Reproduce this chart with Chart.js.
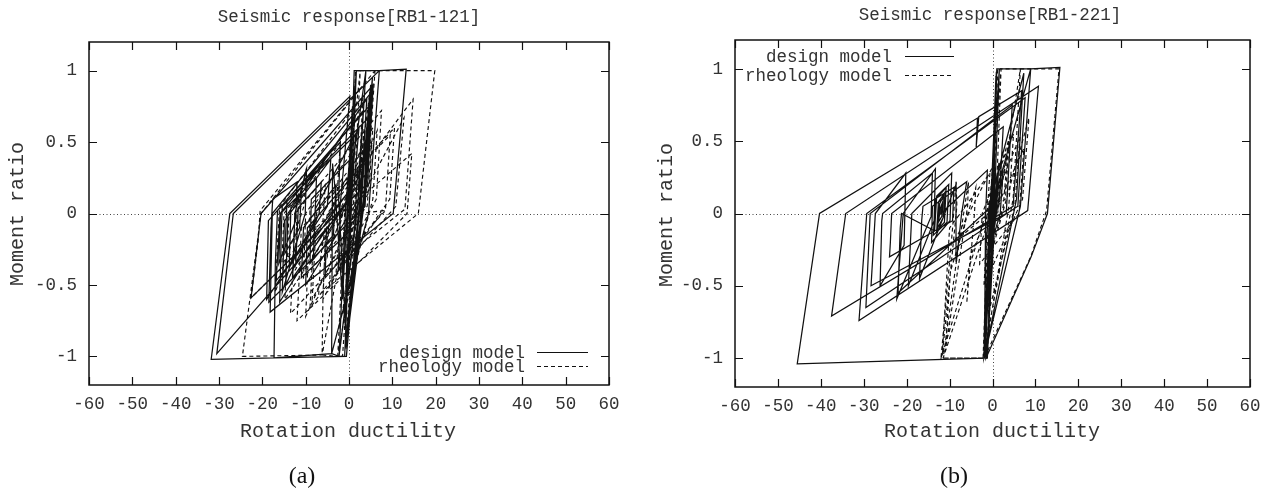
<!DOCTYPE html>
<html>
<head>
<meta charset="utf-8">
<script src="https://cdn.jsdelivr.net/npm/chart.js@4.4.1/dist/chart.umd.min.js"></script>
<style>
html,body{margin:0;padding:0;background:#fff;}
#wrap{position:relative;width:1272px;height:492px;overflow:hidden;}
canvas{position:absolute;top:0;}
#chartA{left:0;}
#chartB{left:636px;}
</style>
</head>
<body>
<div id="wrap">
<canvas id="chartA" width="636" height="492"></canvas>
<canvas id="chartB" width="636" height="492"></canvas>
</div>
<script>
// ---- axes ----
const xTicks = [-60,-50,-40,-30,-20,-10,0,10,20,30,40,50,60];
const yTicks = [-1,-0.5,0,0.5,1];

const seriesNames = ["design model","rheology model"];

// ---- panel (a) RB1-121: [rotation ductility, moment ratio] ----
const designA = [
  [0,0],[0.7,0.7],[-0.3,0.02],[-0.8,-0.75],[0.2,0.05],[1.2,1.0],[1.7,1.0],[0.4,0.05],
  [-1.0,-1.0],[-2.3,-1.0],[-0.8,0.02],[1.7,1.0],[3.9,1.0],[2.0,0.05],[-2.3,-1.0],
  [-4.0,-0.98],[-3.8,0.35],[-3.3,0.2],[-1.5,-0.6],[-0.3,0.1],[3.9,1.0],[7.0,1.0],
  [4.5,0.0],[-4.0,-0.98],[-17.3,-1.01],[-17.0,-0.35],[-16.5,0.02],[1.5,0.55],[0.7,0.15],
  [-8.2,-0.3],[-7.8,0.03],[2.3,0.6],[1.2,0.2],[-16.8,-0.47],[-15.9,0.0],[3.3,0.72],
  [2.2,0.25],[-12.3,-0.36],[-11.7,0.04],[-6.4,0.22],[-6.9,0.0],[-14.6,-0.5],[-14.1,0.0],
  [4.1,0.8],[2.9,0.2],[-0.6,-1.0],[-17.3,-1.01],[-31.8,-1.02],[-27.5,0.0],[0.2,0.82],
  [-2.2,0.0],[-30.5,-0.98],[-26.7,0.0],[7.0,1.0],[13.2,1.01],[10.2,0.0],[-18.2,-0.69],
  [-17.7,0.0],[5.2,0.85],[3.9,0.2],[-22.6,-0.59],[-20.3,0.0],[5.6,0.9],[4.4,0.3],
  [-13.0,-0.45],[-12.5,0.0],[-9.8,0.31],[-10.1,0.0],[-15.4,-0.55],[-14.9,-0.05],[-4.2,0.38],
  [-5.0,0.05],[-19.0,-0.6],[-18.6,-0.05],[4.6,0.75],[3.5,0.1],[-0.9,-0.95],[4.3,0.62],
  [3.2,0.0],[-1.2,-0.7],[3.8,0.5],[2.6,-0.05],[-11.0,-0.45],[-10.5,-0.1],[-3.0,0.2],
  [-3.6,-0.15],[-9.0,-0.35],[-8.7,0.1],[1.0,0.4],[0.2,-0.25],[-5.5,-0.45],[-5.2,-0.1],
  [-16.0,-0.62],[-15.6,-0.1],[-15.4,0.05],[4.8,0.68],[3.7,0.05],[-18.5,-0.62],[-18.0,-0.1],
  [-17.6,0.1],[-12.0,0.22],[-12.3,-0.05],[-16.2,-0.35],[-15.8,0.0],[-7.5,0.25],[-7.9,-0.05],
  [-13.8,-0.38],[-13.4,0.05],[-11.0,0.15],[-11.4,-0.1],[-14.8,-0.28],[-14.3,0.1],[-2.0,0.5],
  [-2.4,0.1],[-0.5,-0.95],[5.0,0.9],[4.0,0.25],[0.2,-0.6],[4.8,0.8],[3.6,0.1],[-0.3,-0.85],
  [5.4,0.95],[4.3,0.2],[-10.0,-0.5],[-9.6,-0.1],[2.0,0.3],[1.2,-0.15],[-2.5,-0.4],[-2.0,0.0],
  [0.8,0.15],[0.3,-0.05]
];
const rheologyA = [
  [0,0],[0.8,0.75],[-0.2,0.05],[-0.9,-0.8],[0.3,0.0],[1.5,1.0],[2.6,1.0],[1.0,0.05],
  [-1.5,-1.0],[-2.6,-1.0],[-1.0,0.0],[2.6,1.0],[6.0,1.0],[4.2,0.2],[-2.6,-1.0],
  [-6.2,-0.99],[-6.0,-0.56],[-5.6,-0.3],[-4.0,0.05],[5.5,0.6],[4.6,0.15],[-8.5,-0.6],
  [-7.8,-0.2],[-7.5,0.0],[3.5,0.45],[2.6,0.1],[-10.0,-0.72],[-9.4,-0.3],[-9.0,0.02],
  [1.2,0.45],[0.4,0.1],[-6.2,-0.99],[-24.6,-1.0],[-20.3,0.0],[1.5,0.83],[-0.5,0.05],
  [-14.8,-0.6],[-14.2,-0.2],[-13.8,0.0],[-2.0,0.5],[-2.8,0.1],[-12.5,-0.4],[-12.0,0.0],
  [-9.8,0.32],[-10.4,0.05],[-17.0,-0.55],[-16.4,-0.15],[-16.0,0.05],[3.2,0.82],[2.2,0.15],
  [-22.6,-0.59],[-21.0,-0.2],[-20.5,0.02],[6.0,1.0],[19.8,1.0],[16.0,0.0],[-7.0,-0.57],
  [-6.5,-0.3],[-5.0,0.0],[14.8,0.8],[12.9,0.03],[0.0,-0.28],[0.6,-0.05],[1.0,0.0],
  [12.7,0.67],[10.8,0.05],[-3.0,-0.42],[-2.2,-0.1],[-1.5,0.0],[14.5,0.42],[13.4,0.0],
  [3.3,-0.31],[-12.0,-0.75],[-11.4,-0.4],[-11.0,-0.1],[10.5,0.6],[9.4,0.1],[-4.5,-0.5],
  [-4.0,-0.2],[6.5,0.58],[5.5,0.1],[-1.5,-0.7],[4.8,0.85],[3.8,0.2],[-0.8,-0.9],[3.5,0.6],
  [2.4,0.0],[8.0,0.02],[-9.0,-0.66],[-8.4,-0.3],[-8.0,0.0],[9.5,0.55],[8.4,0.02],
  [-13.5,-0.7],[-12.8,-0.3],[-12.5,0.0],[7.5,0.72],[6.3,0.1],[-6.0,-0.6],[-5.5,-0.2],
  [5.2,0.5],[4.2,0.05],[-10.5,-0.45],[-10.0,0.0],[-5.5,0.2],[-6.0,-0.05],[-15.5,-0.35],
  [-15.0,0.0],[0.5,0.62],[-0.4,0.1],[-5.0,-0.3],[-4.6,0.0],[2.0,0.35],[1.2,0.0],
  [-1.0,-0.2],[0.0,0.0]
];

// ---- panel (b) RB1-221 ----
const designB = [
  [0,0],[0.6,0.6],[-0.4,0.0],[-1.0,-0.9],[0.2,0.05],[1.0,1.0],[1.6,1.0],[0.4,0.05],
  [-1.2,-1.0],[-2.0,-1.0],[-0.7,0.0],[1.6,1.0],[8.9,1.0],[6.5,0.05],[-2.0,-1.0],
  [-1.5,-0.2],[-0.8,0.05],[7.3,0.97],[5.6,0.1],[-1.9,-1.0],[-45.5,-1.04],[-40.3,0.0],
  [-3.5,0.66],[-3.8,0.46],[-3.2,0.67],[6.8,0.85],[4.8,0.05],[-37.5,-0.71],[-34.2,0.0],
  [10.7,0.88],[8.2,0.02],[-31.1,-0.74],[-29.3,0.0],[7.6,0.8],[5.9,0.05],[-29.5,-0.65],
  [-28.5,0.0],[4.6,0.75],[3.2,0.0],[-28.3,-0.5],[-27.3,0.0],[-20.2,0.28],[-20.6,-0.22],
  [-26.2,-0.5],[-25.8,-0.05],[-25.6,0.0],[-14.0,0.28],[-14.3,-0.02],[-22.3,-0.59],[-20.8,0.0],
  [-13.3,0.31],[-13.6,-0.05],[-19.6,-0.5],[-18.8,0.0],[-9.5,0.28],[-9.9,-0.05],[-14.2,-0.2],
  [-14.0,0.05],[-6.0,0.22],[-7.2,0.0],[-8.4,-0.33],[-8.5,0.2],[-17.0,-0.45],[-16.5,-0.05],
  [-16.2,0.05],[-9.0,0.18],[-9.3,-0.05],[-24.0,-0.3],[-23.8,-0.2],[-23.5,0.0],[2.5,0.6],
  [1.6,0.1],[-22.0,-0.55],[-21.5,-0.1],[-21.2,0.0],[-13.5,-0.12],[-13.0,0.12],[-10.2,0.2],
  [-10.6,-0.06],[-13.8,-0.15],[-13.2,0.1],[-10.8,0.18],[-11.2,-0.06],[-13.0,-0.12],[-12.6,0.08],
  [-11.0,0.15],[-11.5,-0.03],[-12.8,-0.1],[-12.3,0.07],[-11.4,0.12],[-11.8,-0.02],[-12.6,-0.06],
  [-12.1,0.04],[-11.6,0.08],[-12.0,0.0],[-1.2,0.3],[-1.6,0.0],[-1.9,-1.0],[0.9,0.98],
  [0.2,0.3],[-1.6,-0.95],[0.8,0.95],[0.3,0.3],[-0.5,-0.1],[-1.0,-0.35],[0.5,0.25],[0.0,-0.05],
  [-0.8,-0.3],[1.5,0.35],[0.8,0.0],[-0.4,-0.25],[2.5,0.3],[1.8,0.0],[-0.2,-0.2],[1.2,0.2],
  [0.6,-0.05],[-0.6,-0.15],[0.9,0.15],[8.9,1.0],[15.7,1.01],[12.8,0.0],[9.0,-0.3],
  [-1.5,-1.0],[-0.5,-0.6],[0.4,-0.1]
];
const rheologyB = [
  [0,0],[0.7,0.65],[-0.3,0.05],[-0.9,-0.85],[0.2,0.0],[1.2,1.0],[2.0,1.0],[0.8,0.05],
  [-1.5,-1.0],[-2.2,-1.0],[-1.0,-0.05],[2.0,1.0],[6.5,1.0],[4.8,0.1],[-2.2,-1.0],
  [-12.0,-1.0],[-9.3,-0.1],[-8.5,0.22],[-8.3,0.05],[-11.7,-0.98],[-10.4,-0.3],[-10.0,-0.1],
  [-0.6,0.28],[-1.5,-0.1],[-11.5,-1.0],[-8.4,-0.33],[-5.6,0.22],[-5.8,0.05],[-11.0,-0.95],
  [-9.8,-0.4],[-3.9,0.18],[-4.2,0.0],[-6.0,-0.62],[-5.2,-0.3],[6.4,0.53],[5.2,0.05],
  [-1.0,-0.7],[-0.5,-0.3],[8.5,0.66],[7.0,0.1],[-2.0,-0.5],[-1.2,-0.1],[7.3,0.45],[6.2,0.0],
  [-3.0,-0.35],[-2.4,0.0],[4.9,0.55],[3.8,0.05],[-1.9,-1.0],[-12.0,-1.0],[4.0,0.53],
  [3.0,0.1],[-9.0,-0.2],[0.5,0.35],[-0.3,-0.05],[-1.5,-0.6],[2.0,0.35],[1.2,0.0],
  [6.5,1.0],[15.5,1.0],[12.6,0.02],[8.9,-0.3],[-1.9,-1.0],[-1.2,-0.4],[-0.4,0.0],
  [3.5,0.4],[2.5,0.05],[-0.8,-0.3],[1.5,0.2],[0.5,0.0]
];

const MONO = "'Liberation Mono', 'DejaVu Sans Mono', monospace";
const SERIF = "'Liberation Serif', 'DejaVu Serif', serif";
const INK = "#333";

// gnuplot-like frame: dotted zero axes, box border, inward mirrored ticks, texts, key
const gnuFrame = {
  id: "gnuFrame",
  beforeDatasetsDraw(chart) {
    const {ctx, chartArea: a, scales: {x, y}} = chart;
    const x0 = Math.round(x.getPixelForValue(0)) + 0.5;
    const y0 = Math.round(y.getPixelForValue(0)) + 0.5;
    ctx.save();
    ctx.strokeStyle = "#444";
    ctx.lineWidth = 1;
    ctx.setLineDash([1, 2.5]);
    ctx.beginPath();
    ctx.moveTo(x0, a.top); ctx.lineTo(x0, a.bottom);
    ctx.moveTo(a.left, y0); ctx.lineTo(a.right, y0);
    ctx.stroke();
    ctx.restore();
  },
  afterDatasetsDraw(chart, args, o) {
    const {ctx, chartArea: a, scales: {x, y}} = chart;
    ctx.save();
    ctx.strokeStyle = "#111";
    ctx.lineWidth = 1.5;
    ctx.setLineDash([]);
    ctx.strokeRect(a.left, a.top, a.right - a.left, a.bottom - a.top);
    ctx.lineWidth = 1.2;
    ctx.beginPath();
    const tl = 8;
    x.ticks.forEach(t => {
      const px = Math.round(x.getPixelForValue(t.value)) + 0.5;
      ctx.moveTo(px, a.bottom); ctx.lineTo(px, a.bottom - tl);
      ctx.moveTo(px, a.top); ctx.lineTo(px, a.top + tl);
    });
    y.ticks.forEach(t => {
      const py = Math.round(y.getPixelForValue(t.value)) + 0.5;
      ctx.moveTo(a.left, py); ctx.lineTo(a.left + tl, py);
      ctx.moveTo(a.right, py); ctx.lineTo(a.right - tl, py);
    });
    ctx.stroke();

    // texts
    ctx.fillStyle = INK;
    ctx.textBaseline = "middle";
    ctx.textAlign = "center";
    ctx.font = "17.5px " + MONO;
    ctx.fillText(o.title, o.titlePos[0], o.titlePos[1]);
    ctx.font = "20px " + MONO;
    ctx.fillText("Rotation ductility", o.xTitlePos[0], o.xTitlePos[1]);
    ctx.save();
    ctx.translate(o.yTitlePos[0], o.yTitlePos[1]);
    ctx.rotate(-Math.PI / 2);
    ctx.fillText("Moment ratio", 0, 0);
    ctx.restore();
    ctx.fillStyle = "#111";
    ctx.font = "24px " + SERIF;
    ctx.fillText(o.caption, o.captionPos[0], o.captionPos[1]);

    // key
    ctx.font = "17.5px " + MONO;
    ctx.textAlign = "right";
    chart.data.datasets.forEach((ds, i) => {
      const ry = o.keyRows[i];
      ctx.fillStyle = INK;
      ctx.fillText(ds.label, o.keyText, ry + 1);
      ctx.strokeStyle = "#111";
      ctx.lineWidth = 1.2;
      ctx.setLineDash(ds.borderDash || []);
      ctx.beginPath();
      ctx.moveTo(o.keyLine[0], ry + 0.5);
      ctx.lineTo(o.keyLine[1], ry + 0.5);
      ctx.stroke();
    });
    ctx.restore();
  }
};

function makeChart(id, design, rheology, box, frame) {
  return new Chart(document.getElementById(id), {
    type: "scatter",
    data: {
      datasets: [
        {label: seriesNames[0], data: design.map(p => ({x: p[0], y: p[1]})),
         showLine: true, borderColor: "#111", borderWidth: 1.25, pointRadius: 0, fill: false},
        {label: seriesNames[1], data: rheology.map(p => ({x: p[0], y: p[1]})),
         showLine: true, borderColor: "#111", borderWidth: 1.15, borderDash: [4, 3], pointRadius: 0, fill: false}
      ]
    },
    options: {
      responsive: false,
      animation: false,
      devicePixelRatio: 1,
      layout: {padding: {left: 0, top: box.top, right: 636 - box.right, bottom: 0}},
      plugins: {legend: {display: false}, title: {display: false}, tooltip: {enabled: false}, gnuFrame: frame},
      scales: {
        x: {
          type: "linear", min: -60, max: 60,
          grid: {display: false, drawTicks: false},
          border: {display: false},
          ticks: {font: {family: MONO, size: 17.5}, color: INK, padding: 9, maxRotation: 0,
                  callback: v => String(v)},
          afterBuildTicks: s => { s.ticks = xTicks.map(v => ({value: v})); },
          afterFit: s => { s.height = 492 - box.bottom; }
        },
        y: {
          type: "linear", min: -1.2, max: 1.2,
          grid: {display: false, drawTicks: false},
          border: {display: false},
          ticks: {font: {family: MONO, size: 17.5}, color: INK, padding: 12,
                  callback: v => String(v)},
          afterBuildTicks: s => { s.ticks = yTicks.map(v => ({value: v})); },
          afterFit: s => { s.width = box.left; }
        }
      }
    },
    plugins: [gnuFrame]
  });
}

makeChart("chartA", designA, rheologyA,
  {left: 89, right: 609, top: 42, bottom: 385},
  {title: "Seismic response[RB1-121]", titlePos: [349, 17], xTitlePos: [348, 432],
   yTitlePos: [18, 214], caption: "(a)", captionPos: [302, 477],
   keyText: 525, keyLine: [537, 588], keyRows: [352, 366]});

makeChart("chartB", designB, rheologyB,
  {left: 99, right: 614, top: 40, bottom: 387},
  {title: "Seismic response[RB1-221]", titlePos: [354, 15], xTitlePos: [356, 432],
   yTitlePos: [31, 215], caption: "(b)", captionPos: [318, 477],
   keyText: 256, keyLine: [269, 318], keyRows: [56, 75]});
</script>
</body>
</html>
